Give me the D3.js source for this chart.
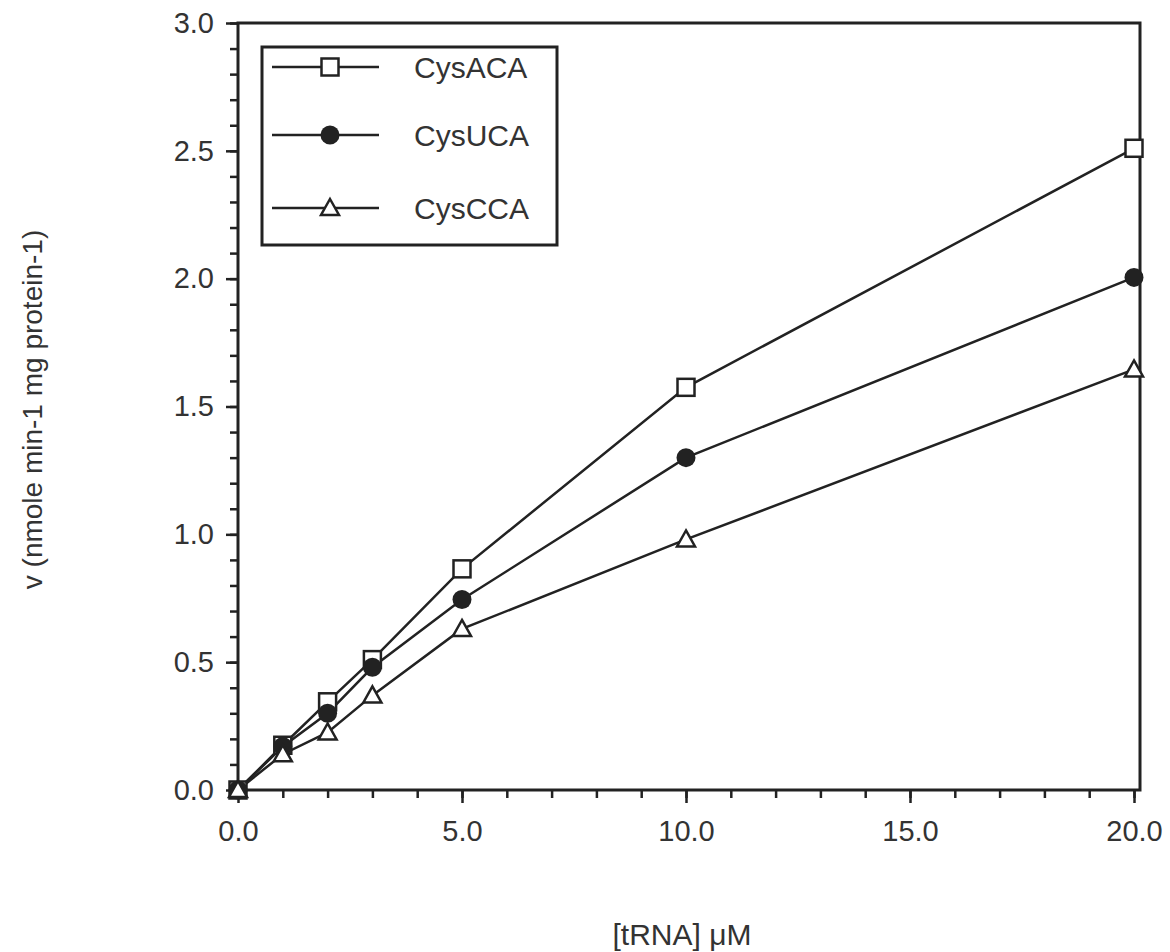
<!DOCTYPE html>
<html>
<head>
<meta charset="utf-8">
<script src="https://cdn.jsdelivr.net/npm/d3@7"></script>
<style>
  body { margin: 0; background: #fff; }
  text { font-family: "Liberation Sans", Arial, Helvetica, sans-serif; fill: #333; }
</style>
</head>
<body>
<svg id="chart"></svg>
<script>
const svgWidth = 1170, svgHeight = 952;

// data
const tRNA = [0, 1, 2, 3, 5, 10, 20];
const cysACA = [0, 0.175, 0.345, 0.51, 0.865, 1.575, 2.51];
const cysUCA = [0, 0.17, 0.30, 0.48, 0.745, 1.30, 2.005];
const cysCCA = [0, 0.14, 0.225, 0.37, 0.63, 0.98, 1.645];
const seriesNames = ["CysACA", "CysUCA", "CysCCA"];
const seriesShapes = ["square", "circle", "triangle"];
const xMajorTicks = [0, 5, 10, 15, 20];
const yMajorTicks = [0, 0.5, 1, 1.5, 2, 2.5, 3];

const series = [cysACA, cysUCA, cysCCA].map((vals, i) => ({
    name: seriesNames[i],
    shape: seriesShapes[i],
    values: tRNA.map((x, j) => ({x: x, y: vals[j]}))
}));

const ink = "#222";
const chart = d3.select("#chart").attr("width", svgWidth).attr("height", svgHeight);

var xScale = d3.scaleLinear().domain([0, 20]).range([238, 1134]);
var yScale = d3.scaleLinear().domain([0, 3]).range([790, 23]);
var fmt = d3.format(".1f");

// frame
chart.append("rect")
    .attr("x", xScale(0)).attr("y", yScale(3))
    .attr("width", xScale(20) + 6 - xScale(0)).attr("height", yScale(0) - yScale(3))
    .attr("fill", "none").attr("stroke", ink).attr("stroke-width", 3);

// y axis: minor + major ticks
chart.append("g")
    .attr("transform", `translate(${xScale(0)},0)`)
    .call(d3.axisLeft(yScale).tickValues(d3.range(0, 31).map(d => d / 10)).tickSize(8).tickFormat(""))
    .call(g => g.select(".domain").remove())
    .selectAll("line").attr("stroke", ink).attr("stroke-width", 2.5);

chart.append("g")
    .attr("transform", `translate(${xScale(0)},0)`)
    .call(d3.axisLeft(yScale).tickValues(yMajorTicks).tickSize(12).tickPadding(12).tickFormat(fmt))
    .call(g => g.select(".domain").remove())
    .call(g => g.selectAll("line").attr("stroke", ink).attr("stroke-width", 2.5))
    .selectAll("text").attr("font-size", 29).attr("fill", "#333");

// x axis: minor + major ticks
chart.append("g")
    .attr("transform", `translate(0,${yScale(0)})`)
    .call(d3.axisBottom(xScale).tickValues(d3.range(0, 21)).tickSize(8).tickFormat(""))
    .call(g => g.select(".domain").remove())
    .selectAll("line").attr("stroke", ink).attr("stroke-width", 2.5);

chart.append("g")
    .attr("transform", `translate(0,${yScale(0)})`)
    .call(d3.axisBottom(xScale).tickValues(xMajorTicks).tickSize(13).tickPadding(17).tickFormat(fmt))
    .call(g => g.select(".domain").remove())
    .call(g => g.selectAll("line").attr("stroke", ink).attr("stroke-width", 2.5))
    .selectAll("text").attr("font-size", 29).attr("fill", "#333");

// axis titles
chart.append("text")
    .attr("transform", "translate(42," + ((yScale(0) + yScale(3)) / 2 + 3) + ") rotate(-90)")
    .attr("text-anchor", "middle")
    .attr("font-size", 28)
    .text("v (nmole min-1 mg protein-1)");

chart.append("text")
    .attr("x", (xScale(0) + xScale(20)) / 2 - 4)
    .attr("y", 945)
    .attr("text-anchor", "middle")
    .attr("font-size", 30)
    .text("[tRNA] \u03bcM");

// markers
function drawMarker(sel, shape) {
    if (shape == "square") {
        sel.append("rect").attr("x", -8.5).attr("y", -8.5).attr("width", 17).attr("height", 17)
            .attr("fill", "#fff").attr("stroke", ink).attr("stroke-width", 2.5);
    } else if (shape == "circle") {
        sel.append("circle").attr("r", 9.5).attr("fill", ink);
    } else {
        sel.append("path").attr("d", "M0,-9L9,7L-9,7Z")
            .attr("fill", "#fff").attr("stroke", ink).attr("stroke-width", 2.5);
    }
}

var valueline = d3.line()
    .x(function(d){ return xScale(d.x); })
    .y(function(d){ return yScale(d.y); });

series.forEach(function(s) {
    chart.append("path")
        .datum(s.values)
        .attr("d", valueline)
        .attr("fill", "none")
        .attr("stroke", ink)
        .attr("stroke-width", 2.5);
});

// draw markers after lines, last series on top
series.forEach(function(s) {
    chart.append("g").selectAll("g")
        .data(s.values)
        .enter()
        .append("g")
        .attr("transform", d => `translate(${xScale(d.x)},${yScale(d.y)})`)
        .each(function() { drawMarker(d3.select(this), s.shape); });
});

// legend
const legend = chart.append("g");
legend.append("rect")
    .attr("x", 262).attr("y", 47).attr("width", 295).attr("height", 198)
    .attr("fill", "#fff").attr("stroke", ink).attr("stroke-width", 3);

const legendRows = [67, 135, 208];
series.forEach(function(s, i) {
    const row = legend.append("g").attr("transform", `translate(0,${legendRows[i]})`);
    row.append("line").attr("x1", 272).attr("x2", 379).attr("y1", 0).attr("y2", 0)
        .attr("stroke", ink).attr("stroke-width", 2.5);
    drawMarker(row.append("g").attr("transform", "translate(330,0)"), s.shape);
    row.append("text").attr("x", 414).attr("y", 0).attr("dy", "0.36em")
        .attr("font-size", 30).text(s.name);
});
</script>
</body>
</html>
